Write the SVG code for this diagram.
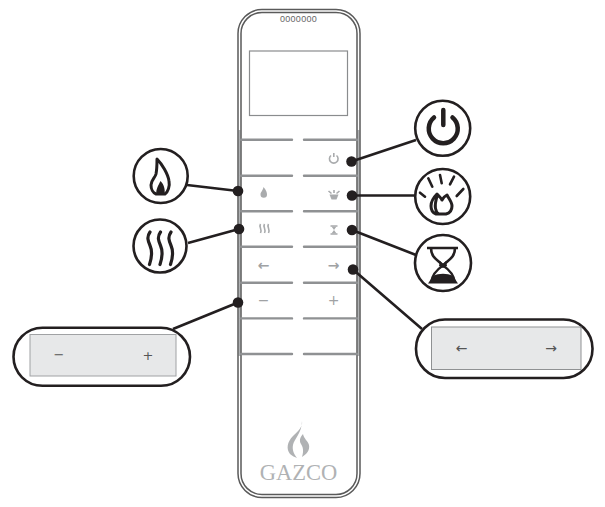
<svg xmlns="http://www.w3.org/2000/svg" width="605" height="507" viewBox="0 0 605 507">
<defs>
<style>
.body{fill:none;stroke:#5a5a5a;stroke-width:1.500}
.bar{fill:none;stroke:#8f9193;stroke-width:2.400;stroke-linecap:round}
.halo{fill:#fff;stroke:#231f20;stroke-width:2.600}
.conn{fill:none;stroke:#231f20;stroke-width:2.600}
.dot{fill:#231f20}
.ic{fill:none;stroke:#231f20;stroke-linecap:round}
.sm{fill:none;stroke:#a9abad;stroke-width:1.600}
.smf{fill:#a9abad}
.key{font-family:"DejaVu Sans",sans-serif;fill:#a0a2a4;text-anchor:middle;font-size:14px}
.pk{font-family:"DejaVu Sans",sans-serif;fill:#555;text-anchor:middle}
</style>
</defs>
<rect width="605" height="507" fill="#fff"/>
<g id="remote">
<path d="M239.500 130V356M358.500 130V356" fill="none" stroke="#b0b2b4" stroke-width="2"/>
<rect class="body" x="238" y="9.500" width="122" height="488" rx="24"/>
<rect class="body" x="241" y="12.500" width="116" height="482" rx="21"/>
<rect x="249.500" y="51" width="98" height="64.500" fill="#fff" stroke="#8a8c8e" stroke-width="1.200"/>
<text x="298.500" y="22" font-family="'Liberation Sans',sans-serif" font-size="9" letter-spacing="0.300" fill="#666" text-anchor="middle">0000000</text>
<path class="bar" d="M241 139.700H292M304 139.700H357M241 175.700H292M304 175.700H357M241 211.200H292M304 211.200H357M241 246.800H292M304 246.800H357M241 282.700H292M304 282.700H357M241 318.400H292M304 318.400H357M241 354H292M304 354H357"/>
<g id="btn-icons">
<path class="sm" d="M331 155.500a4.300 4.300 0 1 0 5.500 0M333.800 153v4"/>
<path class="smf" d="M263.500 187c2.800 3 3.500 5.500 3.500 7.500a3.200 3.200 0 0 1-6.500 0c0-2.500 2.500-4 3-7.500z"/>
<path class="sm" d="M328.500 191l3 2.500M339.500 191l-3 2.500M334 190v3"/>
<path class="smf" d="M329.500 194.500h9l-2 5h-5z"/>
<path class="sm" stroke-width="1.800" d="M260.500 224c-2 3 2 5 0 9M264.500 224c-2 3 2 5 0 9M268.500 224c-2 3 2 5 0 9"/>
<path class="sm" d="M330.500 226h7M330.500 234h7"/>
<path class="smf" d="M331.500 226.500h5l-2.500 3.500 2.500 3.500h-5l2.500-3.500z"/>
<text class="key" x="263.500" y="269.500" font-weight="bold">←</text>
<text class="key" x="333.500" y="269.500" font-weight="bold">→</text>
<text class="key" x="263.500" y="305">−</text>
<text class="key" x="333.500" y="305">+</text>
</g>
<g id="logo">
<path fill="#b0b2b4" d="M302 421c1 6-4 10-9 15-6 6-7 13-3 18 2 2 5 3 7 4-3-4-5-8-4-13 1-6 9-12 9-24zM303 434c-3 3-4 7-2 10 2 3 3 7 1 13 5-3 8-7 7-12-1-4-5-6-6-11z"/>
<text x="298.500" y="479.500" font-family="'Liberation Serif',serif" font-size="22.500" fill="#b0b2b4" text-anchor="middle">GAZCO</text>
</g>
</g>
<g id="connectors">
<path class="conn" d="M351.500 161.500L416 140M352 195.500H416M352 230L416 255M353 269.500L422 329M238 191L187 185M239 229L188 243M238 302.500L173 329"/>
<circle class="dot" cx="351.500" cy="161.500" r="5.300"/>
<circle class="dot" cx="352" cy="195.500" r="5.300"/>
<circle class="dot" cx="352" cy="230" r="5.300"/>
<circle class="dot" cx="353" cy="269.500" r="5.300"/>
<circle class="dot" cx="238" cy="191" r="5.300"/>
<circle class="dot" cx="239" cy="229" r="5.300"/>
<circle class="dot" cx="238" cy="302.500" r="5.300"/>
</g>
<g id="power-callout">
<circle class="halo" cx="442.700" cy="128.300" r="27.500"/>
<path class="ic" stroke-width="4.500" d="M434 117.500a14.500 14.500 0 1 0 18.500 0M443.300 110v15"/>
</g>
<g id="fire-callout">
<circle class="halo" cx="442.700" cy="196.500" r="27.500"/>
<path class="ic" stroke-width="2.600" d="M420 192.700l5 4M428.300 178.300l4 8.400M440 175l1.700 8.300M454 176.700l-4 7.600M463.300 189l-6.600 7"/>
<path class="ic" stroke-width="3" stroke-linejoin="round" d="M437 194c-3 3-6 7-6 12 0 4 2 7 5 8h10c4-1 6-4 6-8 0-4-3-7-5-11-2 1-4 3-5 5-1-2-3-4-5-6zM437 196c-1 5-3 9-1 14 0 1 1 3 3 4"/>
</g>
<g id="hourglass-callout">
<circle class="halo" cx="443" cy="263" r="28"/>
<path fill="none" stroke="#231f20" stroke-width="2.600" d="M427 248H458M431 248c0 10 7 12 12 17.500 5-5.500 12-7.500 12-17.500"/>
<path fill="none" stroke="#231f20" stroke-width="2.200" d="M443 265.500c-6 4-11 9-12 17M443 265.500c6 4 11 9 12 17"/>
<path fill="#231f20" d="M440 261l3 3 3-3 1 5-4 2-4-2zM433 276c6-3 14-3 20 0l5 7.500h-30z"/>
</g>
<g id="flame-callout">
<circle class="halo" cx="160.700" cy="176" r="27"/>
<path fill="none" stroke="#231f20" stroke-width="3" stroke-linejoin="round" d="M157 159c5 5 11 15 12 22 1 5-1 11-4 13h-9c-3-1-5-5-5-9 0-5 4-7 5-11 1-5 1-10 1-15z"/>
<path fill="#231f20" d="M160.500 181c3 3 5 8 4 13h-8c-1-4 2-9 4-13z"/>
</g>
<g id="heat-callout">
<circle class="halo" cx="160" cy="246" r="26.500"/>
<path class="ic" stroke-width="3.200" d="M150 232c-3.500 5-2 9 0 13.500s2.500 10-.5 19M160.500 232c-3.500 5-2 9 0 13.500s2.500 10-.5 19M171 232c-3.500 5-2 9 0 13.500s2.500 10-.5 19"/>
</g>
<g id="plus-minus-callout">
<rect class="halo" x="13.500" y="327.800" width="176.500" height="58" rx="29"/>
<rect x="30" y="334.500" width="146" height="41.500" fill="#e7e8e9" stroke="#a0a2a4"/>
<text class="pk" x="59" y="359" font-size="13">−</text>
<text class="pk" x="148" y="359.500" font-size="13">+</text>
</g>
<g id="arrows-callout">
<rect class="halo" x="416" y="319.500" width="176.500" height="58.500" rx="29"/>
<rect x="431.500" y="327" width="149.500" height="42.500" fill="#e7e8e9" stroke="#8f9193"/>
<text class="pk" x="461.500" y="353" font-size="14">←</text>
<text class="pk" x="551" y="353" font-size="14">→</text>
</g>
</svg>
